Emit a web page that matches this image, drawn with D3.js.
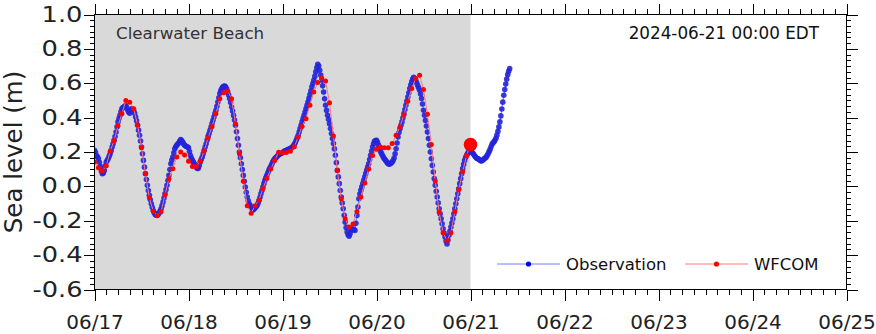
<!DOCTYPE html>
<html>
<head>
<meta charset="utf-8">
<script src="https://cdn.jsdelivr.net/npm/d3@7"></script>
<style>
  html, body { margin: 0; padding: 0; background: #fff; }
  svg { display: block; font-family: "DejaVu Sans", sans-serif; }
</style>
</head>
<body>
<svg id="chart" width="876" height="334"></svg>
<script>
// ---- data ----
const stationName = "Clearwater Beach";
const stampLabel = "2024-06-21 00:00 EDT";
const seriesNames = ["Observation", "WFCOM"];
const startTime = "2024-06-17T00:00:00Z";
const nowcastTime = "2024-06-21T00:00:00Z";

// observed water level (m), every 15 minutes from 06/17 00:00 (one row per hour)
const obsStepMinutes = 15;
const obsValues = [
  0.210, 0.198, 0.180, 0.172,   0.161, 0.140, 0.116, 0.090,   0.074, 0.078, 0.093, 0.120,
  0.142, 0.150, 0.161, 0.176,   0.190, 0.208, 0.229, 0.248,   0.268, 0.290, 0.316, 0.346,
  0.375, 0.395, 0.413, 0.434,   0.452, 0.458, 0.462, 0.468,   0.470, 0.458, 0.443, 0.432,
  0.425, 0.440, 0.452, 0.450,   0.443, 0.425, 0.404, 0.381,   0.355, 0.327, 0.297, 0.264,
  0.229, 0.190, 0.151, 0.112,   0.074, 0.040, 0.006, -0.024,  -0.052, -0.078, -0.101, -0.122,
  -0.140, -0.153, -0.163, -0.168, -0.169, -0.164, -0.155, -0.144, -0.130, -0.112, -0.091, -0.068,
  -0.043, -0.019, 0.006, 0.034, 0.064, 0.098, 0.132, 0.153,   0.171, 0.196, 0.219, 0.230,
  0.239, 0.246, 0.252, 0.262,   0.272, 0.266, 0.258, 0.248,   0.239, 0.235, 0.232, 0.229,
  // 06/18
  0.225, 0.203, 0.180, 0.164,   0.151, 0.141, 0.132, 0.120,   0.112, 0.104, 0.105, 0.122,
  0.142, 0.156, 0.171, 0.190,   0.210, 0.229, 0.248, 0.270,   0.291, 0.308, 0.326, 0.345,
  0.365, 0.385, 0.404, 0.423,   0.443, 0.466, 0.491, 0.516,   0.540, 0.557, 0.569, 0.578,
  0.582, 0.583, 0.578, 0.566,   0.549, 0.531, 0.511, 0.488,   0.462, 0.438, 0.413, 0.386,
  0.355, 0.318, 0.278, 0.239,   0.200, 0.166, 0.132, 0.098,   0.064, 0.030, -0.004, -0.034,
  -0.062, -0.084, -0.101, -0.112, -0.120, -0.130, -0.138, -0.132, -0.124, -0.118, -0.111, -0.098,
  -0.082, -0.063, -0.043, -0.024, -0.004, 0.016, 0.035, 0.050, 0.064, 0.079, 0.093, 0.105,
  0.116, 0.129, 0.142, 0.152,   0.161, 0.166, 0.171, 0.178,   0.184, 0.187, 0.190, 0.193,
  // 06/19
  0.196, 0.201, 0.205, 0.207,   0.210, 0.213, 0.215, 0.217,   0.220, 0.224, 0.228, 0.234,
  0.243, 0.254, 0.268, 0.282,   0.297, 0.316, 0.336, 0.356,   0.375, 0.394, 0.414, 0.433,
  0.452, 0.471, 0.491, 0.512,   0.534, 0.556, 0.579, 0.598,   0.617, 0.640, 0.666, 0.690,
  0.710, 0.700, 0.676, 0.648,   0.617, 0.585, 0.549, 0.510,   0.472, 0.442, 0.414, 0.390,
  0.365, 0.337, 0.307, 0.278,   0.249, 0.218, 0.181, 0.138,   0.093, 0.055, 0.016, -0.024,
  -0.062, -0.097, -0.130, -0.168, -0.208, -0.240, -0.266, -0.282, -0.290, -0.275, -0.256, -0.250,
  -0.247, -0.252, -0.256, -0.215, -0.169, -0.120, -0.072, -0.045, -0.023, -0.003, 0.016, 0.035,
  0.054, 0.074, 0.093, 0.112,   0.132, 0.156, 0.181, 0.206,   0.229, 0.248, 0.262, 0.266,
  // 06/20
  0.268, 0.256, 0.240, 0.222,   0.205, 0.192, 0.181, 0.170,   0.161, 0.153, 0.146, 0.138,
  0.132, 0.129, 0.132, 0.136,   0.142, 0.150, 0.165, 0.190,   0.219, 0.252, 0.287, 0.313,
  0.336, 0.355, 0.375, 0.398,   0.423, 0.447, 0.472, 0.496,   0.520, 0.545, 0.569, 0.590,
  0.608, 0.624, 0.635, 0.628,   0.617, 0.603, 0.588, 0.574,   0.559, 0.537, 0.511, 0.479,
  0.443, 0.414, 0.384, 0.351,   0.316, 0.278, 0.239, 0.200,   0.161, 0.122, 0.084, 0.045,
  0.006, -0.028, -0.062, -0.096, -0.130, -0.160, -0.188, -0.218, -0.247, -0.272, -0.295, -0.318,
  -0.335, -0.312, -0.285, -0.261, -0.237, -0.213, -0.188, -0.160, -0.130, -0.101, -0.072, -0.043,
  -0.014, 0.016, 0.045, 0.074,  0.103, 0.128, 0.151, 0.168,   0.181, 0.191, 0.200, 0.202,
  // 06/21
  0.200, 0.198, 0.195, 0.188,   0.180, 0.172, 0.165, 0.162,   0.160, 0.155, 0.150, 0.148,
  0.150, 0.155, 0.160, 0.165,   0.170, 0.180, 0.190, 0.202,   0.215, 0.230, 0.245, 0.254,
  0.260, 0.268, 0.280, 0.298,   0.320, 0.346, 0.375, 0.410,   0.450, 0.490, 0.530, 0.563,
  0.595, 0.624, 0.650, 0.670,   0.685
];

// WFCOM model water level (m), hourly from 06/17 00:00 to 06/21 00:00
const modelStepMinutes = 60;
const modelValues = [
  0.142, 0.109, 0.089, 0.120, 0.204, 0.266, 0.353, 0.423, 0.499, 0.489, 0.452, 0.359,
  0.225, 0.074, -0.066, -0.144, -0.169, -0.148, -0.049, 0.045, 0.103, 0.171, 0.200, 0.182,
  0.146, 0.116, 0.116, 0.146, 0.206, 0.281, 0.349, 0.423, 0.510, 0.545, 0.555, 0.510,
  0.365, 0.190, 0.030, -0.112, -0.156, -0.112, -0.080, -0.012, 0.046, 0.101, 0.150, 0.198,
  0.195, 0.197, 0.204, 0.230, 0.287, 0.349, 0.394, 0.472, 0.549, 0.604, 0.631, 0.613,
  0.487, 0.293, 0.093, -0.072, -0.188, -0.237, -0.219, -0.146, -0.062, 0.019, 0.101, 0.179,
  0.216, 0.229, 0.225, 0.225, 0.249, 0.297, 0.346, 0.417, 0.495, 0.569, 0.627, 0.647,
  0.564, 0.419, 0.244, 0.032, -0.150, -0.270, -0.315, -0.270, -0.146, -0.019, 0.086, 0.180,
  0.243
];

const xTickLabels = ["06/17", "06/18", "06/19", "06/20", "06/21", "06/22", "06/23", "06/24", "06/25"];
const yTickValues = [-0.6, -0.4, -0.2, 0.0, 0.2, 0.4, 0.6, 0.8, 1.0];
const yMinorPerMajor = 6;   // minor y ticks split each 0.2 m step into six
const xMinorHours = 3;

// ---- layout ----
const frame = { left: 94.5, right: 846.5, top: 14.5, bottom: 289.5 };
const svg = d3.select("#chart");

const t0 = new Date(startTime);
const tNow = new Date(nowcastTime);
const obs = obsValues.map((v, i) => ({ t: d3.utcMinute.offset(t0, i * obsStepMinutes), v }));
const model = modelValues.map((v, i) => ({ t: d3.utcMinute.offset(t0, i * modelStepMinutes), v }));
const dayTicks = xTickLabels.map((_, i) => d3.utcDay.offset(t0, i));

const x = d3.scaleUtc()
  .domain([t0, dayTicks[dayTicks.length - 1]])
  .range([frame.left, frame.right]);
const y = d3.scaleLinear()
  .domain([yTickValues[0], yTickValues[yTickValues.length - 1]])
  .range([frame.bottom, frame.top]);

// hindcast period shading
svg.append("rect")
  .attr("x", x(t0)).attr("y", frame.top)
  .attr("width", x(tNow) - x(t0)).attr("height", frame.bottom - frame.top)
  .attr("fill", "#d9d9d9");

svg.append("clipPath").attr("id", "plot-clip")
  .append("rect")
  .attr("x", frame.left).attr("y", frame.top)
  .attr("width", frame.right - frame.left).attr("height", frame.bottom - frame.top);

const plot = svg.append("g").attr("clip-path", "url(#plot-clip)");
const line = d3.line().x(d => x(d.t)).y(d => y(d.v));

// observations
plot.append("path").datum(obs)
  .attr("d", line).attr("fill", "none")
  .attr("stroke", "#7878ff").attr("stroke-width", 1);
plot.append("g").selectAll("circle").data(obs).join("circle")
  .attr("cx", d => x(d.t)).attr("cy", d => y(d.v)).attr("r", 2.8)
  .attr("fill", "#2424dc").attr("fill-opacity", 0.9);

// model
plot.append("path").datum(model)
  .attr("d", line).attr("fill", "none")
  .attr("stroke", "#ff7878").attr("stroke-width", 1);
plot.append("g").selectAll("circle").data(model).join("circle")
  .attr("cx", d => x(d.t)).attr("cy", d => y(d.v)).attr("r", 2.5)
  .attr("fill", "#ff0000");

// nowcast marker
const nowPoint = model.find(d => +d.t === +tNow);
plot.append("circle")
  .attr("cx", x(nowPoint.t)).attr("cy", y(nowPoint.v)).attr("r", 6.8)
  .attr("fill", "#ff0000");

// ---- axes ----
const yStep = yTickValues[1] - yTickValues[0];
const yMinor = d3.range(0, (yTickValues.length - 1) * yMinorPerMajor + 1)
  .map(i => yTickValues[0] + i * yStep / yMinorPerMajor);
const xMinor = d3.utcHour.every(xMinorHours).range(t0, d3.utcHour.offset(dayTicks[dayTicks.length - 1], 1));

function styleAxis(g) {
  g.select(".domain").remove();
  g.selectAll("line").attr("stroke", "#000").attr("stroke-width", 1).attr("shape-rendering", "crispEdges");
  g.selectAll("text").attr("fill", "#222").attr("font-family", "DejaVu Sans, sans-serif");
}

svg.append("g").attr("transform", `translate(0,${frame.bottom})`)
  .call(d3.axisBottom(x).tickValues(xMinor).tickFormat("").tickSize(5)).call(styleAxis);
svg.append("g").attr("transform", `translate(0,${frame.bottom})`)
  .call(d3.axisBottom(x).tickValues(dayTicks).tickFormat((d, i) => xTickLabels[i]).tickSize(11).tickPadding(14))
  .call(styleAxis)
  .selectAll("text").attr("font-size", 20);

svg.append("g").attr("transform", `translate(0,${frame.top})`)
  .call(d3.axisTop(x).tickValues(xMinor).tickFormat("").tickSize(6)).call(styleAxis);
svg.append("g").attr("transform", `translate(0,${frame.top})`)
  .call(d3.axisTop(x).tickValues(dayTicks).tickFormat("").tickSize(11)).call(styleAxis);

svg.append("g").attr("transform", `translate(${frame.left},0)`)
  .call(d3.axisLeft(y).tickValues(yMinor).tickFormat("").tickSize(5)).call(styleAxis);
svg.append("g").attr("transform", `translate(${frame.left},0)`)
  .call(d3.axisLeft(y).tickValues(yTickValues).tickFormat(d => d.toFixed(1)).tickSize(11).tickPadding(1))
  .call(styleAxis)
  .selectAll("text")
  .attr("font-size", 20.5)
  .attr("lengthAdjust", "spacingAndGlyphs")
  .attr("textLength", function () { return this.textContent.length > 3 ? 50 : 41; });

svg.append("g").attr("transform", `translate(${frame.right},0)`)
  .call(d3.axisRight(y).tickValues(yMinor).tickFormat("").tickSize(4)).call(styleAxis);
svg.append("g").attr("transform", `translate(${frame.right},0)`)
  .call(d3.axisRight(y).tickValues(yTickValues).tickFormat("").tickSize(11)).call(styleAxis);

// frame
svg.append("rect")
  .attr("x", frame.left).attr("y", frame.top)
  .attr("width", frame.right - frame.left).attr("height", frame.bottom - frame.top)
  .attr("fill", "none").attr("stroke", "#000").attr("stroke-width", 1)
  .attr("shape-rendering", "crispEdges");

// axis title
svg.append("text")
  .attr("transform", `translate(22,${(frame.top + frame.bottom) / 2}) rotate(-90)`)
  .attr("text-anchor", "middle")
  .attr("font-size", 24.5).attr("fill", "#222")
  .text("Sea level (m)");

// annotations
svg.append("text").attr("x", 116).attr("y", 38.5)
  .attr("font-size", 16.7).attr("fill", "#333").text(stationName);
svg.append("text").attr("x", 819).attr("y", 38.5).attr("text-anchor", "end")
  .attr("font-size", 16.8).attr("fill", "#111").text(stampLabel);

// legend
const legendItems = [
  { name: seriesNames[0], line: "#7878ff", dot: "#0000ff", x0: 497 },
  { name: seriesNames[1], line: "#ff7878", dot: "#ff0000", x0: 685 }
];
const lg = svg.append("g").attr("transform", "translate(0,264)");
legendItems.forEach(it => {
  lg.append("line").attr("x1", it.x0).attr("x2", it.x0 + 63).attr("y1", 0).attr("y2", 0)
    .attr("stroke", it.line).attr("stroke-width", 1);
  lg.append("circle").attr("cx", it.x0 + 31.5).attr("cy", 0).attr("r", 2.6).attr("fill", it.dot);
  lg.append("text").attr("x", it.x0 + 69).attr("y", 0).attr("dy", "0.36em")
    .attr("font-size", 16.5).attr("fill", "#111").text(it.name);
});
</script>
</body>
</html>
